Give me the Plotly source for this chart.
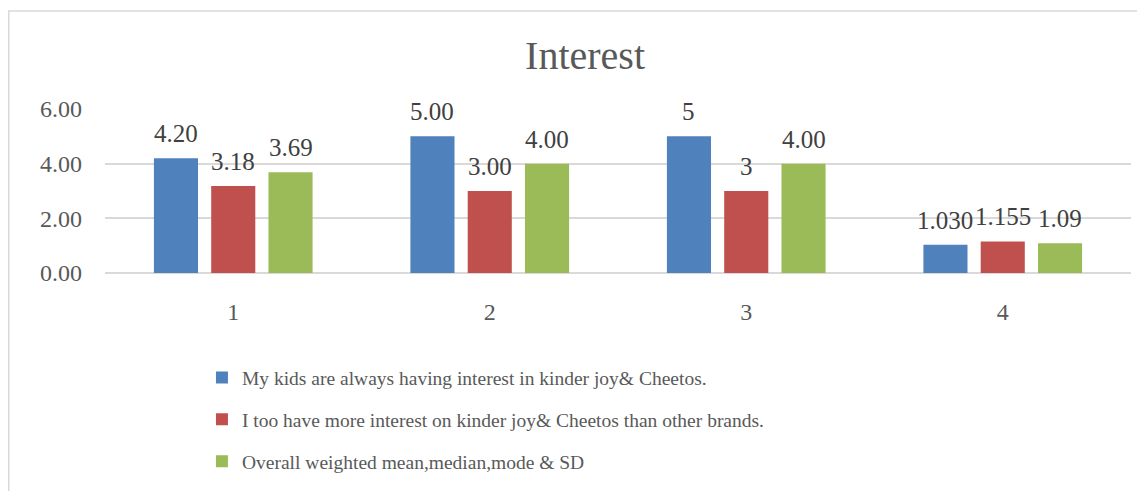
import plotly.graph_objects as go

categories = ["1", "2", "3", "4"]
series_names = [
    "My kids are always having interest in kinder joy& Cheetos.",
    "I too have more interest on kinder joy& Cheetos than other brands.",
    "Overall weighted mean,median,mode & SD",
]
kids_values = [4.20, 5.00, 5.00, 1.030]
kids_labels = ["4.20", "5.00", "5", "1.030"]
too_values = [3.18, 3.00, 3.00, 1.155]
too_labels = ["3.18", "3.00", "3", "1.155"]
overall_values = [3.69, 4.00, 4.00, 1.09]
overall_labels = ["3.69", "4.00", "4.00", "1.09"]
colors = ["#4F81BD", "#C0504D", "#9BBB59"]
y_ticks = [0, 2, 4, 6]
y_tick_labels = ["0.00", "2.00", "4.00", "6.00"]

FONT = "Liberation Serif"

W, H = 1145, 491
ML, MR, MT, MB = 97, 22, 101, 226
PW = W - ML - MR
PH = H - MT - MB
BARGAP, BARGROUPGAP = 0.33, 0.23

fig = go.Figure()
annotations = []
slot_px = PW / len(categories) * (1 - BARGAP) / 3
for i, (vals, labs) in enumerate([(kids_values, kids_labels), (too_values, too_labels), (overall_values, overall_labels)]):
    fig.add_trace(go.Bar(
        x=categories, y=vals, name=series_names[i],
        marker=dict(color=colors[i], line=dict(width=0)),
        legendgroup=f"g{i}",
    ))
    for ci, (v, t) in enumerate(zip(vals, labs)):
        annotations.append(dict(
            x=ci, y=v, xref="x", yref="y", text=t, showarrow=False,
            xanchor="center", yanchor="bottom", xshift=(i - 1) * slot_px, yshift=9,
            font=dict(family=FONT, size=25, color="#404040"),
        ))

fig.update_layout(
    width=W, height=H,
    margin=dict(l=ML, r=MR, t=MT, b=MB),
    paper_bgcolor="white", plot_bgcolor="white",
    barmode="group", bargap=BARGAP, bargroupgap=BARGROUPGAP,
    font=dict(family=FONT, color="#595959"),
    title=dict(text="Interest", x=0.504, xref="container", xanchor="center",
               y=0.904, yref="container", yanchor="middle",
               font=dict(family=FONT, size=40, color="#595959")),
    showlegend=True,
    legend=dict(orientation="v", x=0.0945, xanchor="left", y=-0.52, yanchor="top",
                font=dict(family=FONT, size=19.5, color="#595959"),
                tracegroupgap=13.5, itemsizing="constant", traceorder="grouped"),
    xaxis=dict(type="category", range=[-0.5, len(categories) - 0.5],
               showgrid=False, showline=False, ticks="", ticklabelstandoff=22,
               tickfont=dict(family=FONT, size=24, color="#595959")),
    yaxis=dict(range=[0, 6], tickvals=y_ticks, ticktext=y_tick_labels,
               showgrid=True, gridcolor="#D9D9D9", gridwidth=1.5,
               zeroline=True, zerolinecolor="#D9D9D9", zerolinewidth=1.5,
               showline=False, ticks="", ticklabelstandoff=22,
               tickfont=dict(family=FONT, size=24, color="#595959")),
    annotations=annotations,
    shapes=[dict(type="rect", xref="paper", yref="paper",
                 x0=(0.75 - ML) / PW, x1=1.1, y0=-1.6, y1=(H - MB - 3) / PH,
                 line=dict(color="#D9D9D9", width=1.5), fillcolor="rgba(0,0,0,0)",
                 layer="below")],
)

fig.write_html("out.html")
